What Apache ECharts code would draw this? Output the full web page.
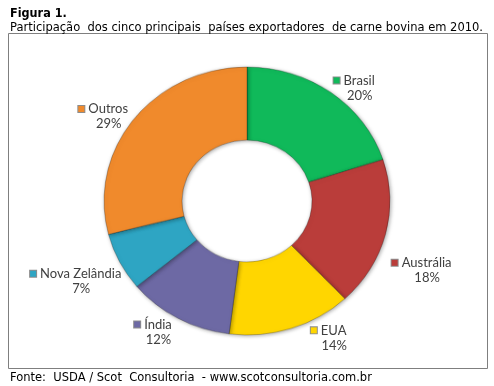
<!DOCTYPE html>
<html><head><meta charset="utf-8">
<script src="https://cdn.jsdelivr.net/npm/echarts@6/dist/echarts.min.js"></script>
<style>
html,body{margin:0;padding:0;background:#fff;}
#main{position:absolute;left:0;top:0;width:494px;height:386px;}
#pie{position:absolute;left:0;top:51px;width:494px;height:300px;transform:scaleY(0.937);transform-origin:50% 50%;}
</style></head>
<body>
<div id="main"></div>
<div id="pie"></div>
<script>
const countries = ['Brasil', 'Austrália', 'EUA', 'Índia', 'Nova Zelândia', 'Outros'];
const shares = [20, 18, 14, 12, 7, 29];
const colors = ['#10B95A', '#BA3D3A', '#FFD600', '#6D69A4', '#2EA5C3', '#F08A2C'];
const titleText = 'Figura 1.';
const subtitleText = 'Participação  dos cinco principais  países exportadores  de carne bovina em 2010.';
const sourceText = 'Fonte:  USDA / Scot  Consultoria  - www.scotconsultoria.com.br';
// label layout tweaks (text placement only)
const labelNudge = [[-5,5],[-6,33],[15,-2],[0,3],[13,14],[4,5]];

const CX = 247, CY = 201, RX = 143, RY = 134, GAP = 12;
const total = shares.reduce((a,b)=>a+b,0);
const mids = []; let acc = 0;
shares.forEach(v => { mids.push((acc + v/2) / total * 2 * Math.PI); acc += v; });

const rich = { n: {fontFamily:'Lato', fontSize:13, color:'#404040', lineHeight:15, padding:[0,0,0,4]},
               p: {fontFamily:'Lato', fontSize:13, color:'#404040', lineHeight:15, padding:[0,0,0,11]} };
colors.forEach((c,i)=>{ rich['m'+i] = {width:6, height:6, backgroundColor:c, borderColor:'rgba(0,0,0,0.45)', borderWidth:1}; });

const main = echarts.init(document.getElementById('main'), null, {renderer:'canvas'});
main.setOption({
  animation:false,
  title:[
    {text:titleText, left:5, top:2, textStyle:{fontFamily:'DejaVu Sans Condensed', fontWeight:'bold', fontSize:12.5, color:'#000'}},
    {text:subtitleText, left:5, top:17, textStyle:{fontFamily:'DejaVu Sans', fontWeight:'normal', fontSize:11.5, color:'#000'}},
    {text:sourceText, left:5, top:367, textStyle:{fontFamily:'DejaVu Sans', fontWeight:'normal', fontSize:11.5, color:'#000'}}
  ],
  graphic:[{type:'rect', shape:{x:8.5, y:33.5, width:479, height:335}, style:{fill:'none', stroke:'#7f7f7f', lineWidth:1}, silent:true}],
  series:[{
    type:'pie', silent:true, center:[CX, CY], radius:[65,143], startAngle:90,
    itemStyle:{color:'rgba(0,0,0,0)'},
    label:{show:true, position:'outside', align:'center', overflow:'none', alignTo:'none',
      formatter:p => '{m'+p.dataIndex+'|}{n|'+p.name+'}\n{p|'+p.value+'%}', rich:rich},
    labelLine:{show:false},
    labelLayout: function(params){
      const i = params.dataIndex, a = mids[i];
      const sx = Math.sin(a), sy = -Math.cos(a);
      const w = params.labelRect.width;
      const x = CX + (RX+GAP)*sx + (sx>=0?1:-1)*w/2 + labelNudge[i][0];
      const y = CY + (RY+GAP)*sy + labelNudge[i][1];
      return {x:x, y:y, align:'center', verticalAlign:'middle'};
    },
    data: countries.map((c,i)=>({name:c, value:shares[i]}))
  }]
});

const pie = echarts.init(document.getElementById('pie'), null, {renderer:'canvas'});
pie.setOption({
  animation:false,
  series:[{
    type:'pie', silent:true, center:[247,150], radius:[65,143], startAngle:90,
    label:{show:false}, labelLine:{show:false},
    itemStyle:{borderColor:'rgba(0,0,0,0.25)', borderWidth:1, shadowBlur:4, shadowColor:'rgba(0,0,0,0.35)', shadowOffsetX:1, shadowOffsetY:1},
    data: countries.map((c,i)=>({name:c, value:shares[i], itemStyle:{color:colors[i]}}))
  }]
});
</script>
</body></html>
